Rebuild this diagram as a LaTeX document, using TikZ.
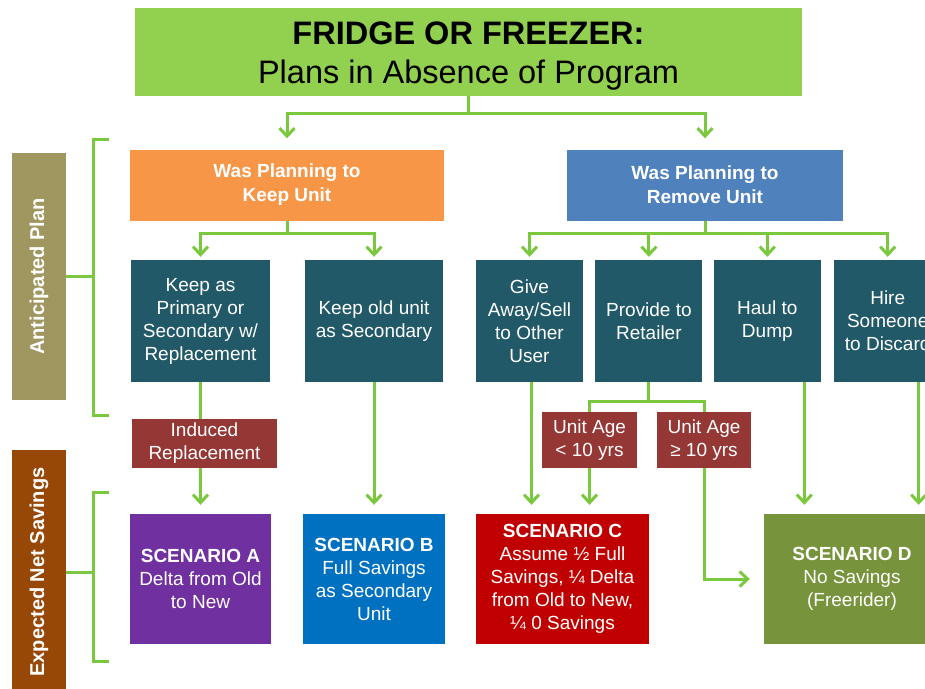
\documentclass[tikz,border=0pt]{standalone}
\usepackage{fontspec}
\setmainfont{Liberation Sans}
\usetikzlibrary{arrows.meta,positioning}
\definecolor{headgreen}{RGB}{146,208,80}
\definecolor{linkgreen}{RGB}{122,200,62}
\definecolor{keeporange}{RGB}{247,150,70}
\definecolor{removeblue}{RGB}{79,129,189}
\definecolor{choiceteal}{RGB}{33,89,104}
\definecolor{tagred}{RGB}{149,55,53}
\definecolor{scenpurple}{RGB}{112,48,160}
\definecolor{scenblue}{RGB}{0,112,192}
\definecolor{scenred}{RGB}{192,0,0}
\definecolor{scengreen}{RGB}{119,147,60}
\definecolor{sideolive}{RGB}{160,151,96}
\definecolor{sidebrown}{RGB}{151,72,6}

\begin{document}
\begin{tikzpicture}[x=1pt,y=-1pt,
    every node/.style={text=white,align=center,inner sep=0pt,font=\fontsize{19}{23}\selectfont},
    choice/.style={fill=choiceteal,minimum width=107pt,minimum height=122pt},
    tag/.style={fill=tagred,minimum height=49pt},
    scen/.style={minimum height=130pt},
    side/.style={rotate=90,minimum height=54pt,font=\fontsize{20}{24}\selectfont\bfseries},
    link/.style={draw=linkgreen,line width=3pt},
    arr/.style={link,-{Straight Barb[length=8pt,width=15pt]}}]
  \useasboundingbox (0,0) rectangle (925,688);
  \clip (0,0) rectangle (925,688);

  \node[fill=headgreen,minimum width=667pt,minimum height=88pt,text=black,
    font=\fontsize{32.5}{39}\selectfont] (title) at (468.5,52)
    {\rule{0pt}{31pt}\textbf{FRIDGE OR FREEZER:}\\Plans in Absence of Program};
  \node[fill=keeporange,minimum width=314pt,minimum height=71pt,
    font=\fontsize{19}{24}\selectfont\bfseries] (keep) at (287,185) {Was Planning to\\Keep Unit};
  \node[fill=removeblue,minimum width=276pt,minimum height=71pt,
    font=\fontsize{19}{24}\selectfont\bfseries] (remove) at (705,185) {Was Planning to\\Remove Unit};

  \node[choice,minimum width=139pt] (k1) at (200.5,321) {Keep as\\Primary or\\Secondary w/\\Replacement};
  \node[choice,minimum width=138pt] (k2) at (374,321) {Keep old unit\\as Secondary};
  \node[choice] (r1) at (529.5,321) {Give\\Away/Sell\\to Other\\User};
  \node[choice,right=12pt of r1] (r2) {Provide to\\Retailer};
  \node[choice,right=11pt of r2] (r3) {Haul to\\Dump};
  \node[choice,right=13pt of r3] (r4) {Hire\\Someone\\to Discard};

  \node[tag,minimum width=145pt] (ind) at (204.5,443.5) {Induced\\Replacement};
  \node[tag,minimum width=95pt,minimum height=56pt] (young) at (589.5,440) {Unit Age\\< 10 yrs};
  \node[tag,minimum width=94pt,minimum height=56pt] (old) at (704,440) {Unit Age\\≥ 10 yrs};

  \node[scen,fill=scenpurple,minimum width=141pt] (scA) at (200.5,579) {\textbf{SCENARIO A}\\Delta from Old\\to New};
  \node[scen,fill=scenblue,minimum width=142pt] (scB) at (374,579) {\textbf{SCENARIO B}\\Full Savings\\as Secondary\\Unit};
  \node[scen,fill=scenred,minimum width=173pt] (scC) at (562.5,579) {\textbf{SCENARIO C}\\Assume ½ Full\\Savings, ¼ Delta\\from Old to New,\\¼ 0 Savings};
  \node[scen,fill=scengreen,minimum width=176pt] (scD) at (852,579) {\textbf{SCENARIO D}\\No Savings\\(Freerider)};

  \node[side,fill=sideolive,minimum width=247pt] (planned) at (39,276.5) {Anticipated Plan};
  \node[side,fill=sidebrown,minimum width=244pt] (net) at (39,572) {Expected Net Savings};

  % tree links
  \draw[arr,shorten >=11pt] (title.south) -- ++(0,17) -| (keep.north);
  \draw[arr,shorten >=11pt] (title.south) -- ++(0,17) -| (remove.north);
  \draw[arr,shorten >=3pt] (keep.south) -- ++(0,13) -| (k1.north);
  \draw[arr,shorten >=3pt] (keep.south) -- ++(0,13) -| (k2.north);
  \draw[arr,shorten >=3pt] (remove.south) -- ++(0,13) -| (r1.north);
  \draw[arr,shorten >=3pt] (remove.south) -- ++(0,13) -| (r2.north);
  \draw[arr,shorten >=3pt] (remove.south) -- ++(0,13) -| (r3.north);
  \draw[arr,shorten >=3pt] (remove.south) -- ++(0,13) -| (r4.north);
  \draw[link] (k1.south) -- (k1.south |- ind.north);
  \draw[arr,shorten >=9pt] (k1.south |- ind.south) -- (k1.south |- scA.north);
  \draw[arr,shorten >=9pt] (k2.south) -- (scB.north);
  \draw[arr,shorten >=9pt] ([xshift=2pt]r1.south) -- ([xshift=2pt]r1.south |- scC.north);
  \draw[link] (r2.south) -- ++(0,19) -| (young.north);
  \draw[link] (r2.south) -- ++(0,19) -| (old.north);
  \draw[arr,shorten >=9pt] (young.south) -- (young.south |- scC.north);
  \draw[arr,shorten >=14pt] (old.south) |- (scD.west);
  \draw[arr,shorten >=9pt] ([xshift=37pt]r3.south) -- ([xshift=37pt]r3.south |- scD.north);
  \draw[arr,shorten >=9pt] ([xshift=31pt]r4.south) -- ([xshift=31pt]r4.south |- scD.north);

  % brackets
  \draw[link] (109,139) -- (93,139) -- (93,415) -- (109,415);
  \draw[link] (planned.south) -- ++(27,0);
  \draw[link] (109,492) -- (93,492) -- (93,661) -- (109,661);
  \draw[link] (net.south) -- ++(27,0);
\end{tikzpicture}
\end{document}
